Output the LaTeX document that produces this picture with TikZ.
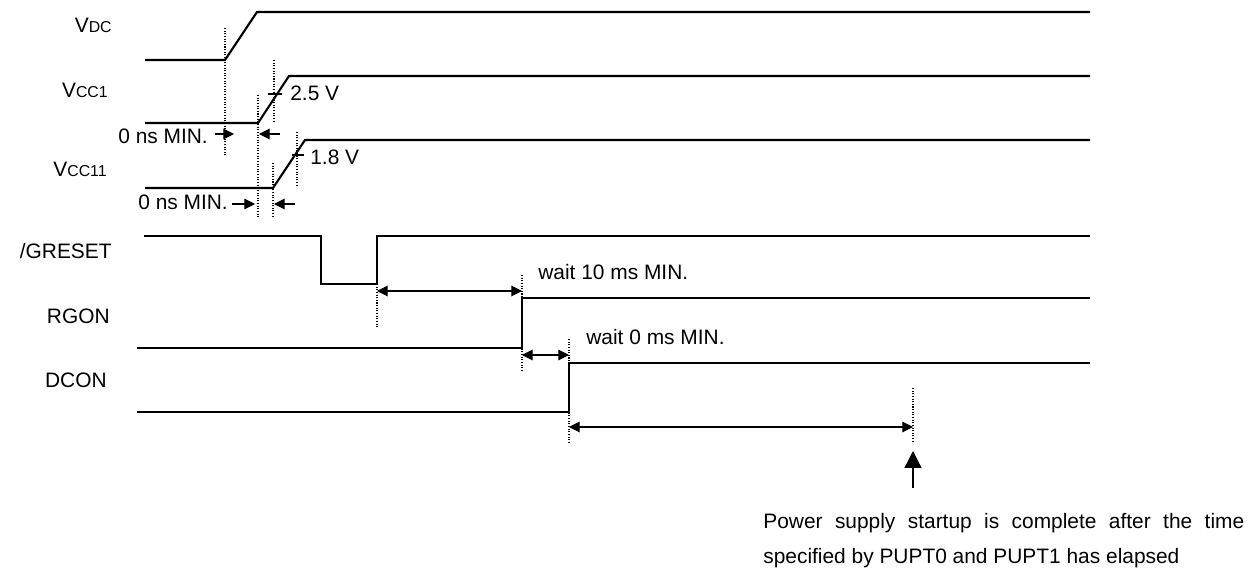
\documentclass[tikz,border=0pt]{standalone}
\usepackage{fontspec}
\setmainfont{Liberation Sans}
\usetikzlibrary{arrows.meta}
\newcommand{\lowpart}[1]{{\fontsize{9}{10}\selectfont#1}}

\begin{document}
\begin{tikzpicture}[
  x=0.02cm,y=-0.02cm,
  font=\fontsize{11.9}{14}\selectfont,
  wave/.style={line width=1.2pt,line join=miter},
  guide/.style={line width=0.6pt,dash pattern=on 0.6pt off 0.9pt},
  tick/.style={line width=0.6pt},
  span/.style={{Triangle[length=6pt,width=6pt]}-{Triangle[length=6pt,width=6pt]},line width=0.6pt},
  pointer/.style={-{Triangle[length=6pt,width=6pt]},line width=0.6pt},
  bigpointer/.style={-{Triangle[length=9.6pt,width=9.6pt]},line width=0.7pt},
  sig/.style={anchor=base east,inner sep=0pt},
  note/.style={anchor=base west,inner sep=0pt}]
\useasboundingbox (0,0) rectangle (1249,571);
% signal names
\node[sig] (vdc) at (112,33) {V\lowpart{DC}};
\node[sig] (vcc1) at (108,98) {V\lowpart{CC1}};
\node[sig] (vcc11) at (107,177) {V\lowpart{CC11}};
\node[sig] (greset) at (112,258) {/GRESET};
\node[sig] (rgon) at (110,323) {RGON};
\node[sig] (dcon) at (107,387) {DCON};
% waveforms
\draw[wave] (145,60) -- (225,60) -- (257,12) -- (1090,12);
\draw[wave] (145,123) -- (258,123) -- (289,76) -- (1090,76);
\draw[wave] (145,188) -- (273,188) -- (305,140) -- (1090,140);
\draw[wave] (144,236) -- (321,236) -- (321,284) -- (377,284) -- (377,236) -- (1090,236);
\draw[wave] (137,348) -- (522,348) -- (522,298) -- (1090,298);
\draw[wave] (137,412) -- (569,412) -- (569,363) -- (1090,363);
% timing guides
\coordinate (vdcgo) at (225,28);
\coordinate (vccgo) at (258,95);
\coordinate (vccmid) at (274,60);
\coordinate (vcc11go) at (273,163);
\coordinate (vcc11mid) at (297,132);
\coordinate (resetup) at (377,284);
\coordinate (rgonup) at (522,275);
\coordinate (dconup) at (569,339);
\coordinate (pupt) at (913,388);
\draw[guide] (vdcgo) -- ++(0,127);
\draw[guide] (vccgo) -- ++(0,123);
\draw[guide] (vccmid) -- ++(0,63);
\draw[guide] (vcc11go) -- ++(0,55);
\draw[guide] (vcc11mid) -- ++(0,55);
\draw[guide] (resetup) -- ++(0,44);
\draw[guide] (rgonup) -- ++(0,95);
\draw[guide] (dconup) -- ++(0,103);
\draw[guide] (pupt) -- ++(0,54);
% threshold marks
\draw[tick] (268,94) -- (282,94);
\node[note] (v25) at (290,101) {2.5 V};
\draw[tick] (292,155) -- (304,155);
\node[note] (v18) at (310,165) {1.8 V};
% 0 ns spacing
\node[note] (ns1) at (118,144) {0 ns MIN.};
\node[note] (ns2) at (138,210) {0 ns MIN.};
\draw[pointer] (215,134) -- (234,134);
\draw[pointer] (280,134) -- (259,134);
\draw[pointer] (232,204) -- (255,204);
\draw[pointer] (295,204) -- (274,204);
% wait times
\draw[span] (377,291) -- (522,291);
\node[note] (wait10) at (538,279) {wait 10 ms MIN.};
\draw[span] (522,355) -- (569,355);
\node[note] (wait0) at (586,344) {wait 0 ms MIN.};
\draw[span] (569,427) -- (913,427);
\coordinate (pupttail) at (913,488);
\draw[bigpointer] (pupttail) -- (913,451);
\node[note] (done1) at (763,528) {\makebox[9.62cm][s]{Power supply startup is complete after the time}};
\node[note] (done2) at (763,563) {specified by PUPT0 and PUPT1 has elapsed};
\end{tikzpicture}
\end{document}
